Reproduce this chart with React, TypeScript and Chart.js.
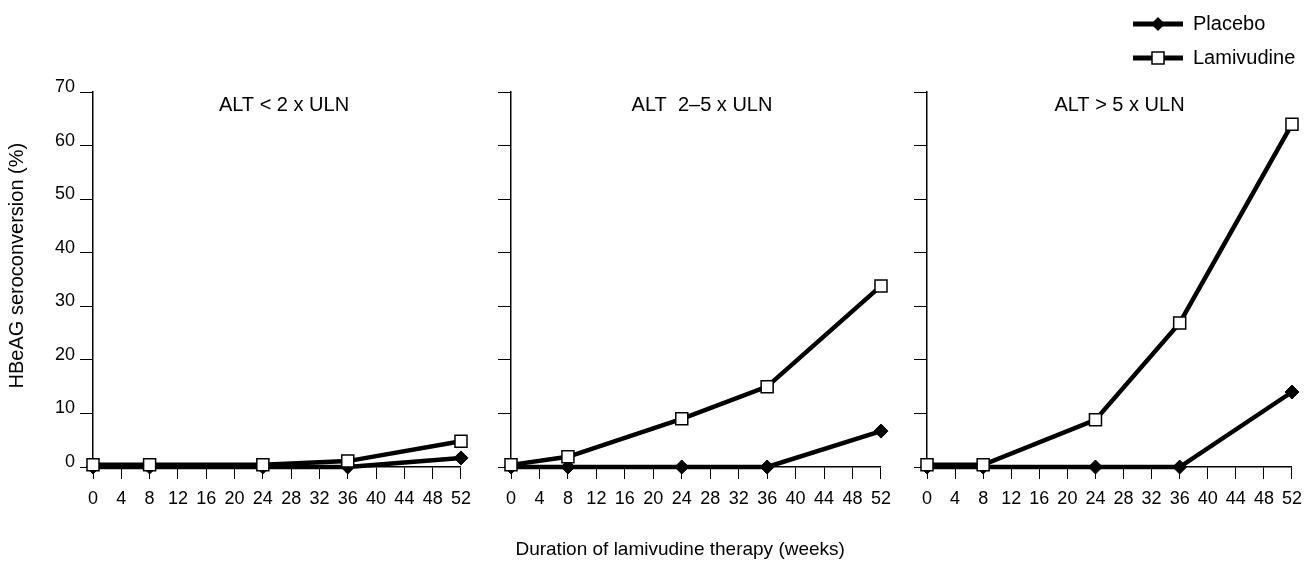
import React, { useEffect, useRef } from 'react';
import { Chart, registerables } from 'chart.js';

Chart.register(...registerables);

// ---------- data ----------
const weeks = [0, 8, 24, 36, 52];
const xTickValues = [0, 4, 8, 12, 16, 20, 24, 28, 32, 36, 40, 44, 48, 52];
const yTickValues = [0, 10, 20, 30, 40, 50, 60, 70];
const seriesNames = ['Placebo', 'Lamivudine'];
const panelTitles = ['ALT < 2 x ULN', 'ALT  2\u20135 x ULN', 'ALT > 5 x ULN'];
const yAxisTitle = 'HBeAG seroconversion (%)';
const xAxisTitle = 'Duration of lamivudine therapy (weeks)';

const placeboBelow2 = [0, 0, 0, 0, 1.7];
const lamivudineBelow2 = [0.4, 0.4, 0.4, 1.1, 4.8];
const placebo2to5 = [0, 0, 0, 0, 6.7];
const lamivudine2to5 = [0.4, 1.9, 9, 15, 33.8];
const placeboAbove5 = [0, 0, 0, 0, 14];
const lamivudineAbove5 = [0.4, 0.4, 8.8, 26.9, 64];

const panelSeries = [
  [placeboBelow2, lamivudineBelow2],
  [placebo2to5, lamivudine2to5],
  [placeboAbove5, lamivudineAbove5],
];

// ---------- layout / style ----------
const FONT = '"Liberation Sans", Arial, Helvetica, sans-serif';
const CANVAS_H = 563;
const NBSP = '\u00a0';
const panelLayout = [
  { left: 0, width: 480, yWidth: 93, padRight: 14, yLabels: true, yTitle: true, xTitle: false, titleDx: 7 },
  { left: 480, width: 420, yWidth: 31, padRight: 19, yLabels: false, yTitle: false, xTitle: true, titleDx: 6 },
  { left: 900, width: 411, yWidth: 27, padRight: 12, yLabels: false, yTitle: false, xTitle: false, titleDx: 10 },
];

Chart.defaults.color = '#000';
Chart.defaults.font.family = FONT;

const panelTitlePlugin = {
  id: 'panelTitle',
  afterDraw(chart: any, _args: any, opts: any) {
    const { ctx, chartArea } = chart;
    ctx.save();
    ctx.font = `20px ${FONT}`;
    ctx.fillStyle = '#000';
    ctx.textAlign = 'center';
    ctx.textBaseline = 'middle';
    ctx.fillText(opts.text, (chartArea.left + chartArea.right) / 2 + (opts.dx || 0), chartArea.top + 13);
    ctx.restore();
  },
};

function makeDatasets(values: number[][]) {
  return [
    {
      label: seriesNames[0],
      data: weeks.map((w, i) => ({ x: w, y: values[0][i] })),
      borderColor: '#000',
      borderWidth: 4.5,
      pointStyle: 'rectRot',
      pointRadius: 7,
      pointBackgroundColor: '#000',
      pointBorderColor: '#000',
      pointBorderWidth: 1,
      tension: 0,
      order: 1,
      clip: false,
    },
    {
      label: seriesNames[1],
      data: weeks.map((w, i) => ({ x: w, y: values[1][i] })),
      borderColor: '#000',
      borderWidth: 4.5,
      pointStyle: 'rect',
      pointRadius: 8.5,
      pointBackgroundColor: '#fff',
      pointBorderColor: '#000',
      pointBorderWidth: 1.5,
      tension: 0,
      order: 0,
      clip: false,
    },
  ];
}

function Panel({ index }: { index: number }) {
  const ref = useRef<HTMLCanvasElement>(null);
  const lay = panelLayout[index];
  useEffect(() => {
    if (!ref.current) return;
    const chart = new Chart(ref.current, {
      type: 'line',
      data: { datasets: makeDatasets(panelSeries[index]) as any },
      plugins: [panelTitlePlugin as any],
      options: {
        animation: false,
        responsive: false,
        events: [],
        layout: { padding: { left: 0, right: lay.padRight, top: 92, bottom: 0 } },
        plugins: {
          legend: { display: false },
          tooltip: { enabled: false },
          panelTitle: { text: panelTitles[index], dx: lay.titleDx },
        } as any,
        scales: {
          x: {
            type: 'linear',
            min: 0,
            max: 52,
            afterBuildTicks: (scale: any) => {
              scale.ticks = xTickValues.map((v) => ({ value: v }));
            },
            afterFit: (scale: any) => {
              scale.height = CANVAS_H - 467;
            },
            border: { display: true, color: '#000', width: 1.5 },
            grid: { display: true, drawOnChartArea: false, drawTicks: true, tickLength: 12, color: '#000', lineWidth: 1 },
            ticks: { autoSkip: false, maxRotation: 0, minRotation: 0, padding: 9, color: '#000', font: { size: 18, family: FONT } },
            title: {
              display: lay.xTitle,
              text: xAxisTitle + NBSP.repeat(6),
              color: '#000',
              font: { size: 19, family: FONT },
              padding: { top: 0, bottom: 2 },
            },
          },
          y: {
            type: 'linear',
            min: 0,
            max: 70,
            afterBuildTicks: (scale: any) => {
              scale.ticks = yTickValues.map((v) => ({ value: v }));
            },
            afterFit: (scale: any) => {
              scale.width = lay.yWidth;
            },
            border: { display: true, color: '#000', width: 1.5 },
            grid: { display: true, drawOnChartArea: false, drawTicks: true, tickLength: 13, color: '#000', lineWidth: 1 },
            ticks: {
              display: lay.yLabels,
              padding: 5,
              labelOffset: -5,
              color: '#000',
              font: { size: 18, family: FONT },
            },
            title: {
              display: lay.yTitle,
              text: NBSP.repeat(5) + yAxisTitle,
              color: '#000',
              font: { size: 20, family: FONT },
              padding: { top: 5, bottom: 0 },
            },
          },
        },
      } as any,
    });
    return () => chart.destroy();
  }, [index]);
  return (
    <canvas
      ref={ref}
      width={lay.width}
      height={CANVAS_H}
      style={{ position: 'absolute', left: lay.left, top: 0, width: lay.width, height: CANVAS_H }}
    />
  );
}

function makeIcon(filled: boolean) {
  const c = document.createElement('canvas');
  c.width = 50;
  c.height = 20;
  const ctx = c.getContext('2d')!;
  ctx.strokeStyle = '#000';
  ctx.lineWidth = 5;
  ctx.beginPath();
  ctx.moveTo(0, 10);
  ctx.lineTo(50, 10);
  ctx.stroke();
  if (filled) {
    ctx.fillStyle = '#000';
    ctx.beginPath();
    ctx.moveTo(25, 3);
    ctx.lineTo(32, 10);
    ctx.lineTo(25, 17);
    ctx.lineTo(18, 10);
    ctx.closePath();
    ctx.fill();
  } else {
    ctx.fillStyle = '#fff';
    ctx.fillRect(19, 4, 12, 12);
    ctx.lineWidth = 1.5;
    ctx.strokeRect(19, 4, 12, 12);
  }
  return c;
}

function LegendChart() {
  const ref = useRef<HTMLCanvasElement>(null);
  useEffect(() => {
    if (!ref.current) return;
    const icons = [makeIcon(true), makeIcon(false)];
    const chart = new Chart(ref.current, {
      type: 'line',
      data: {
        datasets: seriesNames.map((name) => ({ label: name, data: [] as any[] })),
      },
      options: {
        animation: false,
        responsive: false,
        events: [],
        layout: { padding: 0 },
        scales: { x: { display: false }, y: { display: false } },
        plugins: {
          tooltip: { enabled: false },
          legend: {
            display: true,
            position: 'top',
            align: 'start',
            labels: {
              usePointStyle: true,
              pointStyleWidth: 50,
              padding: 14,
              color: '#000',
              font: { size: 20, family: FONT },
              generateLabels: (ch: any) =>
                ch.data.datasets.map((ds: any, i: number) => ({
                  text: ds.label,
                  pointStyle: icons[i],
                  fillStyle: '#000',
                  strokeStyle: '#000',
                  lineWidth: 0,
                  hidden: false,
                  datasetIndex: i,
                  fontColor: '#000',
                })),
            },
          },
        },
      } as any,
    });
    return () => chart.destroy();
  }, []);
  return (
    <canvas
      ref={ref}
      width={192}
      height={170}
      style={{ position: 'absolute', left: 1119, top: 0, width: 192, height: 170, pointerEvents: 'none' }}
    />
  );
}

export default function App() {
  return (
    <div style={{ position: 'absolute', left: 0, top: 0, width: 1311, height: CANVAS_H, background: '#fff' }}>
      <Panel index={0} />
      <Panel index={1} />
      <Panel index={2} />
      <LegendChart />
    </div>
  );
}
